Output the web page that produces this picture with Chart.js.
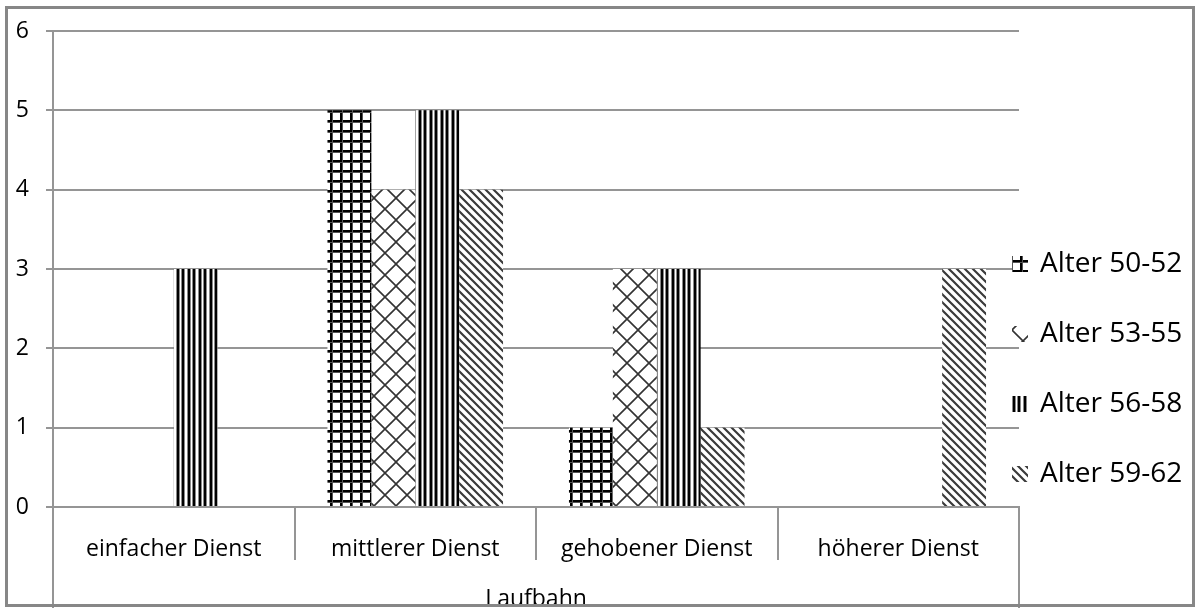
<!DOCTYPE html>
<html>
<head>
<meta charset="utf-8">
<script src="https://cdn.jsdelivr.net/npm/chart.js@4"></script>
<style>
  html, body { margin: 0; padding: 0; background: #fff; }
  #wrap { width: 1196px; height: 608px; }
</style>
</head>
<body>
<div id="wrap"><canvas id="c" width="1196" height="608"></canvas></div>
<script>
// Categories and series
const categories = ['einfacher Dienst', 'mittlerer Dienst', 'gehobener Dienst', 'höherer Dienst'];
const seriesNames = ['Alter 50-52', 'Alter 53-55', 'Alter 56-58', 'Alter 59-62'];
const alter50_52 = [0, 5, 1, 0];
const alter53_55 = [0, 4, 3, 0];
const alter56_58 = [3, 5, 3, 0];
const alter59_62 = [0, 4, 1, 3];
const yTicks = [0, 1, 2, 3, 4, 5, 6];
const axisTitle = 'Laufbahn';

const FONT = "'Open Sans', 'DejaVu Sans', sans-serif";
const GRID = '#959595';

// Fill patterns for the four series
function makePattern(w, h, draw) {
  const c = document.createElement('canvas');
  c.width = w; c.height = h;
  const g = c.getContext('2d');
  g.fillStyle = '#fff';
  g.fillRect(0, 0, w, h);
  draw(g, w, h);
  return g.createPattern(c, 'repeat');
}
const gridPattern = makePattern(10, 10, (g) => {
  g.fillStyle = '#000';
  g.fillRect(0, 0, 10, 2);
  g.fillRect(0, 0, 2, 10);
  g.fillStyle = '#555';
  g.fillRect(0, 2, 10, 1);
  g.fillRect(2, 0, 1, 10);
});
const diamondPattern = makePattern(22, 22, (g, w, h) => {
  g.strokeStyle = '#333';
  g.lineWidth = 1.6;
  g.beginPath();
  g.moveTo(-1, -1); g.lineTo(w + 1, h + 1);
  g.moveTo(w + 1, -1); g.lineTo(-1, h + 1);
  g.stroke();
});
const stripePattern = makePattern(11, 4, (g) => {
  g.fillStyle = '#000';
  g.fillRect(1, 0, 2, 4);
  g.fillRect(6, 0, 2, 4);
  g.fillStyle = '#888';
  g.fillRect(0, 0, 1, 4);
  g.fillRect(3, 0, 1, 4);
  g.fillRect(5, 0, 1, 4);
  g.fillRect(8, 0, 1, 4);
});
const diagPattern = makePattern(8, 8, (g, w, h) => {
  g.strokeStyle = '#3a3a3a';
  g.lineWidth = 2.2;
  g.beginPath();
  for (let k = -1; k <= 1; k++) {
    g.moveTo(k * w - 1, -1);
    g.lineTo(k * w + w + 1, h + 1);
  }
  g.stroke();
});
const fills = [gridPattern, diamondPattern, stripePattern, diagPattern];
const values = [alter50_52, alter53_55, alter56_58, alter59_62];

// Frame around the whole chart, category separators and the side legend
const decorations = {
  id: 'decorations',
  beforeDraw(chart) {
    const ctx = chart.ctx;
    ctx.save();
    ctx.fillStyle = '#fff';
    ctx.fillRect(0, 0, chart.width, chart.height);
    ctx.restore();
  },
  afterDraw(chart) {
    const ctx = chart.ctx;
    const x = chart.scales.x;
    const area = chart.chartArea;
    const n = categories.length;
    ctx.save();
    ctx.strokeStyle = GRID;
    ctx.lineWidth = 2;
    ctx.beginPath();
    for (let i = 0; i <= n; i++) {
      const px = Math.round(x.left + i * (x.width / n));
      const end = (i === 0 || i === n) ? chart.height : area.bottom + 53;
      ctx.moveTo(px, area.bottom);
      ctx.lineTo(px, end);
    }
    ctx.stroke();

    // legend
    const legendX = 1012;
    const firstY = 264;
    const stepY = 70;
    chart.data.datasets.forEach((ds, i) => {
      const cy = firstY + i * stepY;
      ctx.fillStyle = ds.backgroundColor;
      ctx.fillRect(legendX, Math.round(cy - 8), 16, 16);
      ctx.fillStyle = '#000';
      ctx.font = '28px ' + FONT;
      ctx.textBaseline = 'middle';
      ctx.textAlign = 'left';
      ctx.fillText(ds.label, 1040, cy);
    });

    // outer frame
    ctx.strokeStyle = '#878787';
    ctx.lineWidth = 3;
    ctx.strokeRect(6.5, 7.5, 1187, 598);
    ctx.restore();
  }
};

new Chart(document.getElementById('c'), {
  type: 'bar',
  data: {
    labels: categories,
    datasets: seriesNames.map((name, i) => ({
      label: name,
      data: values[i],
      backgroundColor: fills[i],
      borderWidth: 0,
      categoryPercentage: 0.727,
      barPercentage: 1.0
    }))
  },
  options: {
    responsive: false,
    animation: false,
    devicePixelRatio: 1,
    layout: { padding: { top: 31, right: 177, bottom: 0, left: 0 } },
    plugins: {
      legend: { display: false },
      tooltip: { enabled: false }
    },
    scales: {
      x: {
        grid: { display: false },
        border: { display: true, color: GRID, width: 2 },
        ticks: {
          color: '#000',
          padding: 21,
          font: { family: FONT, size: 23 }
        },
        title: {
          display: true,
          text: axisTitle,
          color: '#000',
          font: { family: FONT, size: 23 },
          padding: { top: 0, bottom: -5 }
        },
        afterFit(s) { s.height = 101; }
      },
      y: {
        min: 0,
        max: 6,
        afterBuildTicks(s) { s.ticks = yTicks.map(v => ({ value: v })); },
        grid: { color: GRID, lineWidth: 2, tickLength: 7 },
        border: { display: true, color: GRID, width: 2 },
        ticks: {
          color: '#000',
          padding: 17,
          font: { family: FONT, size: 23 }
        },
        afterFit(s) { s.width = 53; }
      }
    }
  },
  plugins: [decorations]
});
</script>
</body>
</html>
